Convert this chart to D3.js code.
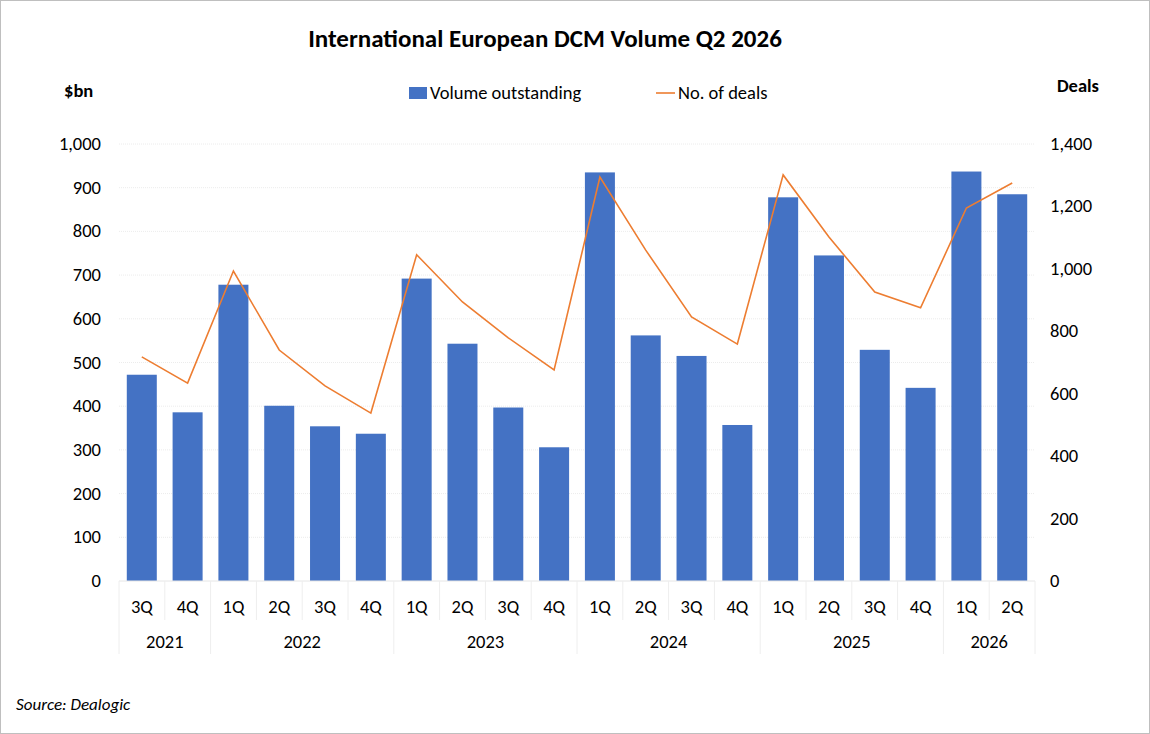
<!DOCTYPE html>
<html><head><meta charset="utf-8">
<script src="https://cdn.jsdelivr.net/npm/d3@7"></script>
<style>body{margin:0;background:#fff}text{font-family:Calibri,"Liberation Sans","Open Sans",sans-serif}</style>
</head><body>
<svg id="chart" width="1150" height="734"></svg>
<script>
"use strict";
var quarters = ["3Q","4Q","1Q","2Q","3Q","4Q","1Q","2Q","3Q","4Q","1Q","2Q","3Q","4Q","1Q","2Q","3Q","4Q","1Q","2Q"];
var years = ["2021","2021","2022","2022","2022","2022","2023","2023","2023","2023","2024","2024","2024","2024","2025","2025","2025","2025","2026","2026"];
var volume = [472,386,678,401,354,337,692,543,397,306,935,562,515,357,878,745,529,442,937,885];
var deals = [718,634,993,740,625,538,1045,894,779,676,1294,1060,846,759,1301,1102,926,875,1195,1275];
var leftTicks = [0,100,200,300,400,500,600,700,800,900,1000];
var rightTicks = [0,200,400,600,800,1000,1200,1400];

var svg = d3.select("#chart");
var L = 119, R = 1035, T = 144, B = 581;
var fs = 18.5;
svg.append("rect").attr("x",0.5).attr("y",0.5).attr("width",1149).attr("height",733)
  .attr("fill","#fff").attr("stroke","#bfbfbf");

var x = d3.scaleBand().domain(d3.range(20)).range([L,R]).paddingInner(0.345).paddingOuter(0.17);
var y = d3.scaleLinear().domain([0,1000]).range([B,T]);
var y2 = d3.scaleLinear().domain([0,1400]).range([B,T]);

// grid
svg.selectAll(".grid").data(leftTicks.slice(1)).enter().append("line")
  .attr("x1",L).attr("x2",R).attr("y1",d=>y(d)).attr("y2",d=>y(d))
  .attr("stroke","#ececec").attr("stroke-dasharray","1,1");

// bars
svg.selectAll(".bar").data(volume).enter().append("rect")
  .attr("x",(d,i)=>x(i)).attr("width",x.bandwidth())
  .attr("y",d=>y(d)).attr("height",d=>B-y(d)).attr("fill","#4472c4");

// line
var line = d3.line().x((d,i)=>x(i)+x.bandwidth()/2).y(d=>y2(d));
svg.append("path").datum(deals).attr("d",line).attr("fill","none")
  .attr("stroke","#ed7d31").attr("stroke-width",1.6);

// axis labels
svg.selectAll(".lt").data(leftTicks).enter().append("text")
  .attr("x",101).attr("y",d=>y(d)+6).attr("text-anchor","end")
  .attr("font-size",fs).attr("fill","#000").text(d=>d3.format(",")(d));
svg.selectAll(".rt").data(rightTicks).enter().append("text")
  .attr("x",1050).attr("y",d=>y2(d)+6).attr("text-anchor","start")
  .attr("font-size",fs).attr("fill","#000").text(d=>d3.format(",")(d));

// category axis
svg.append("line").attr("x1",L).attr("x2",R).attr("y1",B).attr("y2",B).attr("stroke","#e6e6e6");
quarters.forEach(function(q,i){
  var cx = x(i)+x.bandwidth()/2;
  svg.append("text").attr("x",cx).attr("y",613).attr("text-anchor","middle")
    .attr("font-size",fs).text(q);
});
for (var i = 0; i <= 20; i++) {
  var bx = L + i*(R-L)/20;
  var isYear = i===0 || i===20 || years[i]!==years[i-1];
  svg.append("line").attr("x1",bx).attr("x2",bx).attr("y1",B).attr("y2",isYear?654:620)
    .attr("stroke","#eeeeee");
}
var groups = d3.groups(years.map((yv,i)=>({yv,i})), d=>d.yv);
groups.forEach(function(g){
  var a = g[1][0].i, b = g[1][g[1].length-1].i;
  var cx = L + (a+b+1)/2*(R-L)/20;
  svg.append("text").attr("x",cx).attr("y",648).attr("text-anchor","middle")
    .attr("font-size",fs).text(g[0]);
});

// titles
svg.append("text").attr("x",545).attr("y",47).attr("text-anchor","middle")
  .attr("font-size",25).attr("font-weight","bold").text("International European DCM Volume Q2 2026");
svg.append("text").attr("x",64).attr("y",97).attr("font-size",fs).attr("font-weight","bold").text("$bn");
svg.append("text").attr("x",1099).attr("y",92).attr("text-anchor","end").attr("font-size",fs).attr("font-weight","bold").text("Deals");

// legend
svg.append("rect").attr("x",409).attr("y",87).attr("width",18).attr("height",12).attr("fill","#4472c4");
svg.append("text").attr("x",430).attr("y",99).attr("font-size",fs).text("Volume outstanding");
svg.append("line").attr("x1",656).attr("x2",675).attr("y1",93).attr("y2",93).attr("stroke","#ed7d31").attr("stroke-width",1.6);
svg.append("text").attr("x",678).attr("y",99).attr("font-size",fs).text("No. of deals");

svg.append("text").attr("x",16).attr("y",710).attr("font-size",17).attr("font-style","italic").text("Source: Dealogic");
</script>
</body></html>
